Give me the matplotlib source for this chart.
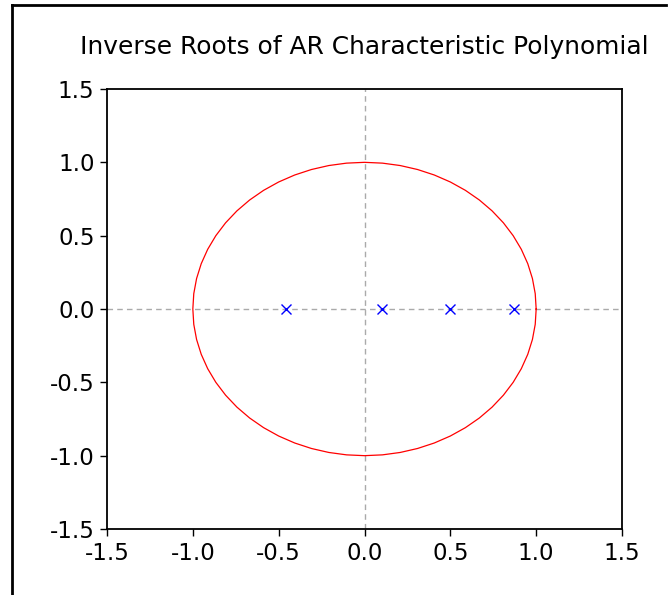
import numpy as np
import matplotlib.pyplot as plt
from matplotlib.lines import Line2D

plt.rcParams['font.family'] = ['DejaVu Sans']

root_re = [-0.46, 0.10, 0.50, 0.87]
root_im = [0.0, 0.0, 0.0, 0.0]
ticks = [-1.5, -1.0, -0.5, 0.0, 0.5, 1.0, 1.5]
tick_labels = ["-1.5", "-1.0", "-0.5", "0.0", "0.5", "1.0", "1.5"]

fig = plt.figure(figsize=(6.69, 5.95), dpi=100)
ax = fig.add_axes([107 / 669, 1 - 529 / 595, 515 / 669, 440 / 595])

# unit circle
theta = np.linspace(0, 2 * np.pi, 61)
ax.plot(np.cos(theta), np.sin(theta), color="red", lw=0.9)

ax.axhline(0, color="#aaaaaa", ls=(0, (4, 3)), lw=1.0, zorder=0)
ax.axvline(0, color="#aaaaaa", ls=(0, (4, 3)), lw=1.0, zorder=0)

ax.plot(root_re, root_im, ls="none", marker="x", color="blue", ms=7, mew=1.0)

ax.set_xlim(-1.5, 1.5)
ax.set_ylim(-1.5, 1.5)
ax.set_xticks(ticks)
ax.set_xticklabels(tick_labels)
ax.set_yticks(ticks)
ax.set_yticklabels(tick_labels)
ax.tick_params(direction="out", length=5, width=1, labelsize=16.5, pad=4)
for s in ax.spines.values():
    s.set_linewidth(1.3)

ax.set_title("Inverse Roots of AR Characteristic Polynomial", fontsize=17.9, pad=25)

# outer frame (left and top only)
fig.add_artist(Line2D([12 / 669, 12 / 669], [0, 1 - 5 / 595], transform=fig.transFigure, color="black", lw=2))
fig.add_artist(Line2D([12 / 669, 666 / 669], [1 - 5 / 595, 1 - 5 / 595], transform=fig.transFigure, color="black", lw=2))

fig.savefig("out.png", dpi=100)
